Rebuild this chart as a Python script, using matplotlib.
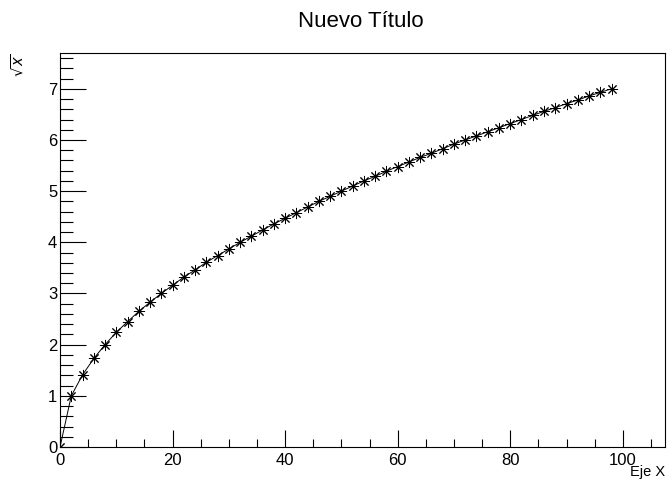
import matplotlib
matplotlib.use("Agg")
import matplotlib.pyplot as plt
from matplotlib.ticker import MultipleLocator

# puntos de la grafica
x_vals = [0, 2, 4, 6, 8, 10, 12, 14, 16, 18, 20, 22, 24, 26, 28, 30, 32, 34,
          36, 38, 40, 42, 44, 46, 48, 50, 52, 54, 56, 58, 60, 62, 64, 66, 68,
          70, 72, 74, 76, 78, 80, 82, 84, 86, 88, 90, 92, 94, 96, 98]
y_vals = [0.00, 1.00, 1.41, 1.73, 2.00, 2.24, 2.45, 2.65, 2.83, 3.00, 3.16,
          3.32, 3.46, 3.61, 3.74, 3.87, 4.00, 4.12, 4.24, 4.36, 4.47, 4.58,
          4.69, 4.80, 4.90, 5.00, 5.10, 5.20, 5.29, 5.39, 5.48, 5.57, 5.66,
          5.74, 5.83, 5.92, 6.00, 6.08, 6.16, 6.24, 6.32, 6.40, 6.48, 6.56,
          6.63, 6.71, 6.78, 6.86, 6.93, 7.00]

titulo = "Nuevo Título"
eje_x = "Eje X"
eje_y = r"$\sqrt{x}$"

plt.rcParams['font.family'] = ['Liberation Sans', 'DejaVu Sans']
plt.rcParams['mathtext.fontset'] = 'dejavusans'

fig = plt.figure(figsize=(6.67, 4.79), dpi=100)
ax = fig.add_axes([0.09, 0.0668, 0.907, 0.8226])

ax.plot(x_vals, y_vals, color='black', linewidth=0.7,
        marker=(8, 2, 0), markersize=8, markeredgewidth=0.7,
        markeredgecolor='black')

ax.set_xlim(0, 107.5)
ax.set_ylim(0, 7.7)

ax.xaxis.set_major_locator(MultipleLocator(20))
ax.xaxis.set_minor_locator(MultipleLocator(5))
ax.yaxis.set_major_locator(MultipleLocator(1))
ax.yaxis.set_minor_locator(MultipleLocator(0.2))

ax.tick_params(axis='both', which='both', direction='in', top=False,
               right=False, labelsize=12, width=0.8)
ax.tick_params(axis='x', which='major', length=12, pad=4)
ax.tick_params(axis='x', which='minor', length=6)
ax.tick_params(axis='y', which='major', length=19, pad=2)
ax.tick_params(axis='y', which='minor', length=9.5)

for s in ax.spines.values():
    s.set_linewidth(0.8)

fig.text(0.541, 0.956, titulo, ha='center', va='center', fontsize=16)
fig.text(0.997, 0.0, eje_x, ha='right', va='bottom', fontsize=10.5)
fig.text(0.015, 0.889, eje_y, ha='left', va='top', rotation=90, fontsize=10.5)

fig.savefig("out.png", dpi=100, facecolor='white')
